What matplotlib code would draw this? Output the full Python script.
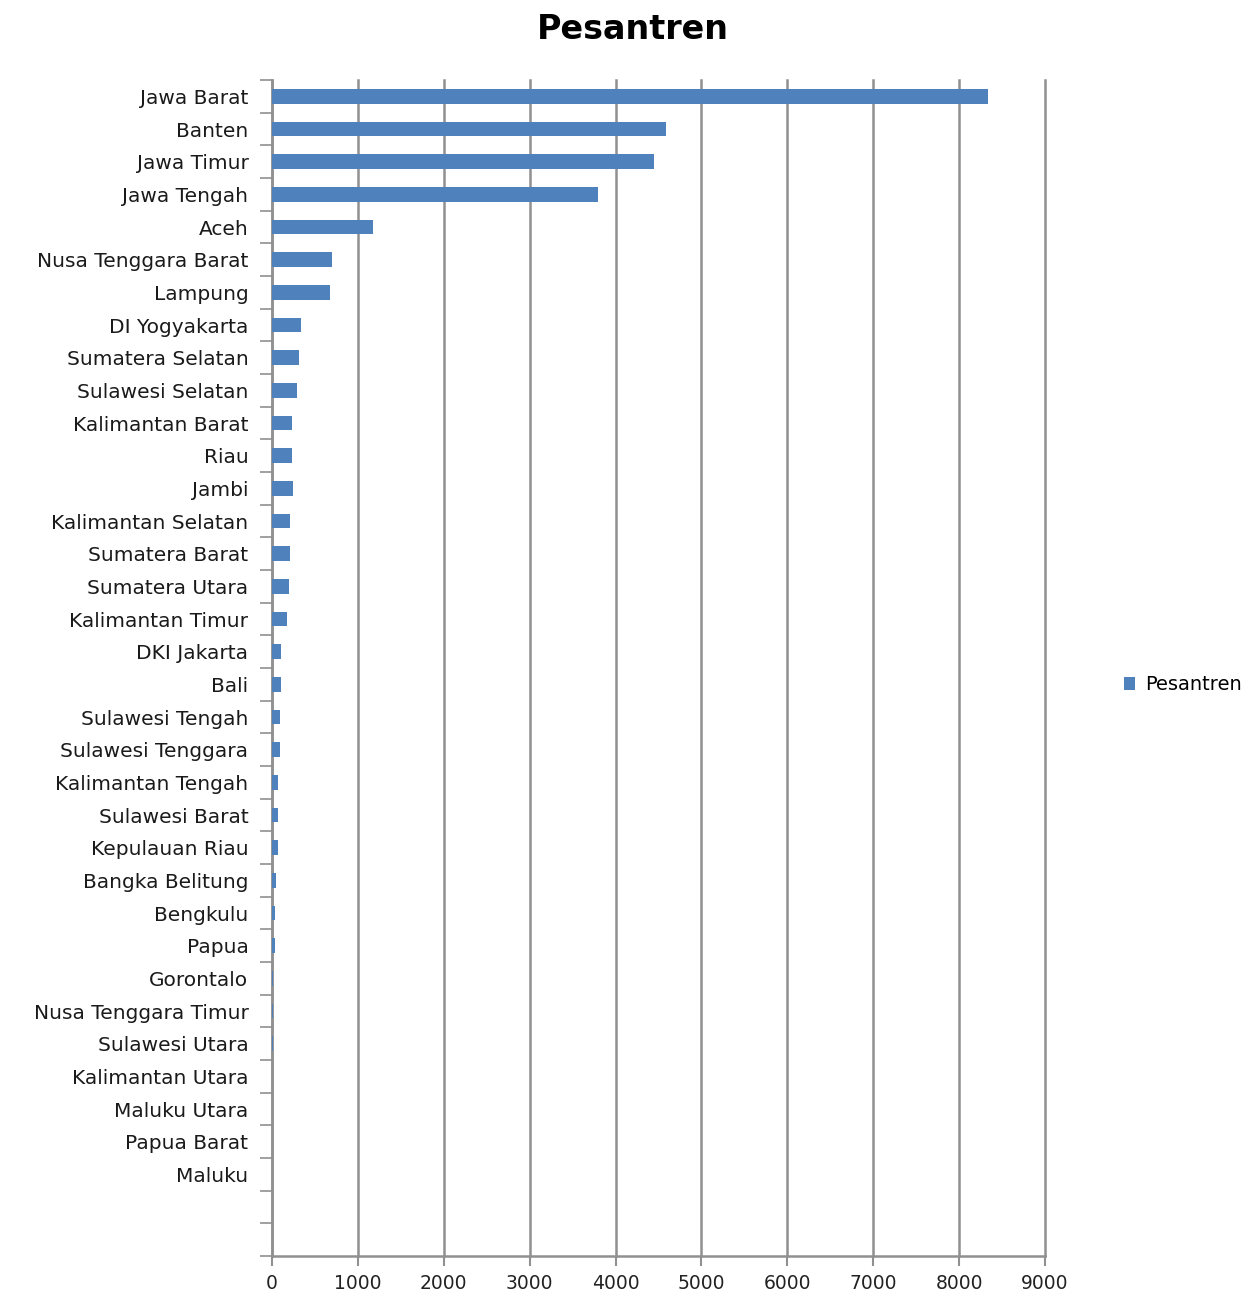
import numpy as np
import matplotlib.pyplot as plt

# data
provinces = [
    "Jawa Barat", "Banten", "Jawa Timur", "Jawa Tengah", "Aceh",
    "Nusa Tenggara Barat", "Lampung", "DI Yogyakarta", "Sumatera Selatan",
    "Sulawesi Selatan", "Kalimantan Barat", "Riau", "Jambi",
    "Kalimantan Selatan", "Sumatera Barat", "Sumatera Utara",
    "Kalimantan Timur", "DKI Jakarta", "Bali", "Sulawesi Tengah",
    "Sulawesi Tenggara", "Kalimantan Tengah", "Sulawesi Barat",
    "Kepulauan Riau", "Bangka Belitung", "Bengkulu", "Papua", "Gorontalo",
    "Nusa Tenggara Timur", "Sulawesi Utara", "Kalimantan Utara",
    "Maluku Utara", "Papua Barat", "Maluku",
]
pesantren = [
    8335, 4587, 4447, 3795, 1176,
    698, 675, 334, 311,
    287, 237, 237, 240,
    213, 211, 194,
    171, 101, 100, 93,
    95, 74, 70,
    72, 43, 40, 40, 12,
    9, 7, 5,
    4, 3, 2,
]
x_ticks = [0, 1000, 2000, 3000, 4000, 5000, 6000, 7000, 8000, 9000]
n_slots = 36  # axis leaves two empty rows under the last province

bar_color = "#4F81BD"
grid_color = "#909090"

fig = plt.figure(figsize=(12.6, 12.97), dpi=100)
ax = fig.add_axes([0.2159, 0.0316, 0.6135, 0.9067])

ypos = np.arange(len(provinces))
ax.barh(ypos, pesantren, height=0.45, color=bar_color, label="Pesantren", zorder=3)

ax.set_xlim(0, 9000)
ax.set_ylim(n_slots - 0.5, -0.5)
ax.set_xticks(x_ticks)
ax.set_xticklabels([str(t) for t in x_ticks], fontsize=13.5, color="#222222")
ax.set_yticks(ypos)
ax.set_yticklabels(provinces, fontsize=14.5, color="#1a1a1a")
ax.set_yticks(np.arange(n_slots + 1) - 0.5, minor=True)

ax.tick_params(axis="y", which="major", length=0, pad=17)
ax.tick_params(axis="y", which="minor", length=9, width=1.2, color=grid_color, direction="out")
ax.tick_params(axis="x", which="major", length=7, width=1.5, color=grid_color, pad=6)

ax.grid(axis="x", color=grid_color, linewidth=1.8, zorder=0)
for line in ax.get_xgridlines():
    line.set_clip_on(False)
for side in ["top", "right"]:
    ax.spines[side].set_visible(False)
for side in ["left", "bottom"]:
    ax.spines[side].set_color(grid_color)
    ax.spines[side].set_linewidth(1.8)

fig.suptitle("Pesantren", fontsize=24, fontweight="bold", x=0.502, y=0.99, va="top")

fig.legend(loc="center left", bbox_to_anchor=(0.878, 0.472), frameon=False,
           fontsize=14, handlelength=0.6, handleheight=0.6, handletextpad=0.5)

fig.savefig("out.png", dpi=100)
